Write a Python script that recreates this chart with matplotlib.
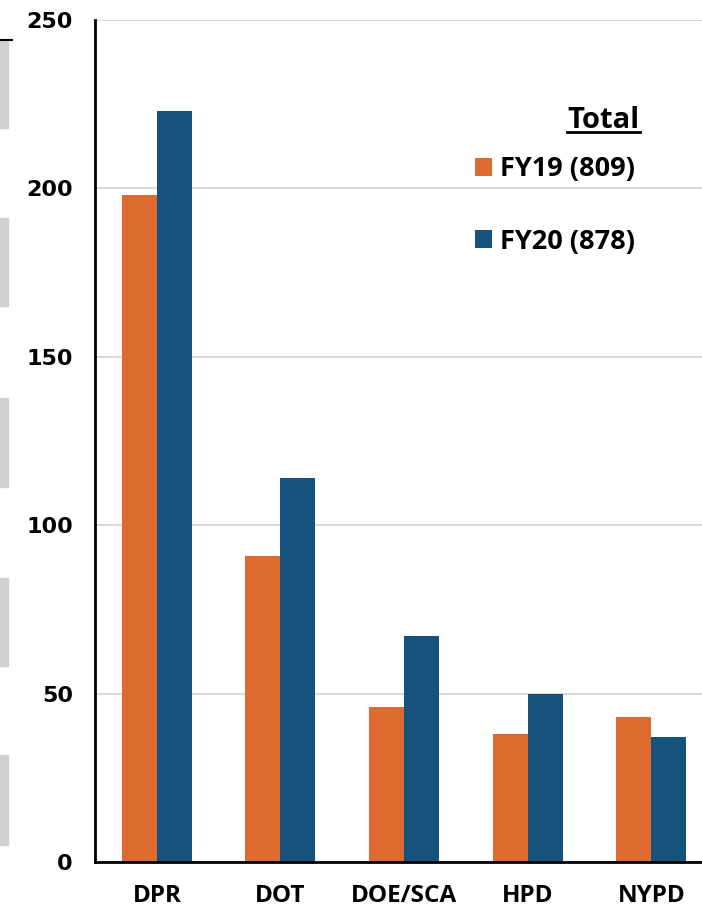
import matplotlib
matplotlib.use("Agg")
import matplotlib.pyplot as plt
from matplotlib.patches import Rectangle
from matplotlib.lines import Line2D
import numpy as np

categories = ["DPR", "DOT", "DOE/SCA", "HPD", "NYPD"]
fy19 = [198, 91, 46, 38, 43]
fy20 = [223, 114, 67, 50, 37]
series_labels = ["FY19 (809)", "FY20 (878)"]
yticks = [0, 50, 100, 150, 200, 250]

c19 = "#DD6B30"
c20 = "#15527C"

fig = plt.figure(figsize=(7.02, 9.13), dpi=100)
ax = fig.add_axes([95/702, 51/913, 1 - 95/702, (862-20)/913])

x = np.arange(len(categories))
w = 0.283
b1 = ax.bar(x - w/2, fy19, w, color=c19, label=series_labels[0], zorder=3)
b2 = ax.bar(x + w/2, fy20, w, color=c20, label=series_labels[1], zorder=3)

ax.set_xlim(-0.5, 4.41)
ax.set_ylim(0, 250)
ax.set_yticks(yticks)
ax.set_yticklabels([str(t) for t in yticks], fontsize=16, fontweight="bold", family="DejaVu Sans")
ax.set_xticks(x)
ax.set_xticklabels(categories, fontsize=17.5, fontweight="bold", family="Open Sans")
ax.tick_params(axis="y", length=0, pad=16)
ax.tick_params(axis="x", length=0, pad=16)
ax.grid(axis="y", color="#d9d9d9", linewidth=1.5, zorder=0)
for s in ["top", "right"]:
    ax.spines[s].set_visible(False)
for s in ["left", "bottom"]:
    ax.spines[s].set_linewidth(2)
    ax.spines[s].set_color("black")
    ax.spines[s].set_zorder(4)

leg = ax.legend(loc="upper left", bbox_to_anchor=(0.626, 0.838), frameon=False,
                borderpad=0, borderaxespad=0,
                handlelength=0.63, handleheight=0.63, handletextpad=0.3,
                labelspacing=1.71, prop={"family": "Open Sans", "weight": "bold", "size": 19.5})

ax.text(0.837, 0.881, "Total", transform=ax.transAxes, ha="center", va="center",
        fontsize=21, fontweight="bold", family="Open Sans")
fig.add_artist(Line2D([567/702, 640/702], [1-132/913, 1-132/913], color="black", linewidth=2))

# decorative fragments at left edge
for y0, y1 in [(40, 128), (218, 306), (398, 487), (578, 666), (755, 845)]:
    fig.add_artist(Rectangle((0, 1 - y1/913), 8/702, (y1-y0)/913, color="#d0d0d0",
                             transform=fig.transFigure))
fig.add_artist(Line2D([0, 12/702], [1-40/913, 1-40/913], color="black", linewidth=1.5))

fig.savefig("out.png", dpi=100)
